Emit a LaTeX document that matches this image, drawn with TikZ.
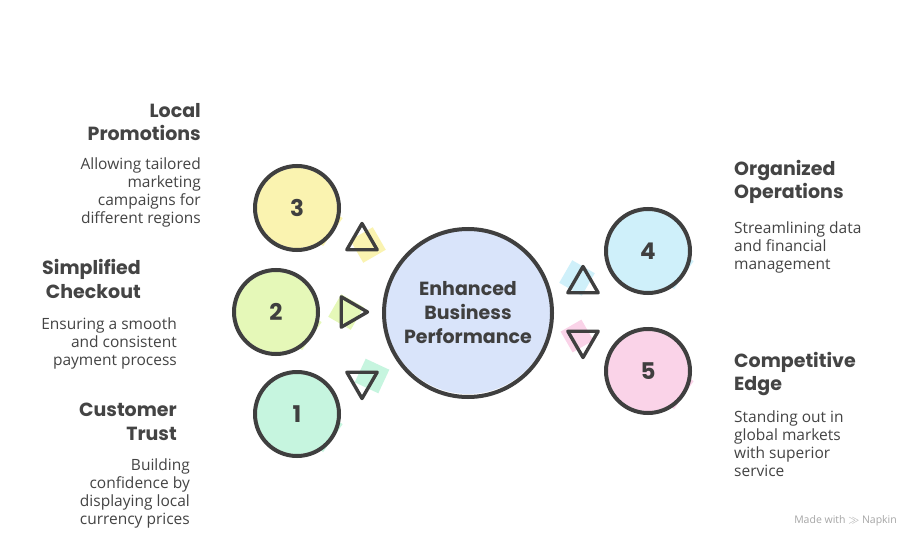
\documentclass[tikz,border=0pt]{standalone}
\usepackage{fontspec}
\setmainfont{Open Sans}
\newfontfamily\titlefont{Poppins}
\usetikzlibrary{shapes.geometric}
\definecolor{ink}{HTML}{3F3F3F}
\definecolor{txt}{HTML}{444444}
\definecolor{cyel}{HTML}{FAF3B0}
\definecolor{clime}{HTML}{E5F8B8}
\definecolor{cmint}{HTML}{C6F5DF}
\definecolor{cblue}{HTML}{D9E4FA}
\definecolor{ccyan}{HTML}{CFF0FA}
\definecolor{cpink}{HTML}{FAD3E8}
\tikzset{
  numcircle/.style={circle, draw=ink, line width=4pt, minimum size=84pt, inner sep=0pt,
    font=\titlefont\bfseries\fontsize{23}{24}\selectfont, text=ink},
  bigcircle/.style={circle, draw=ink, line width=4pt, minimum size=168pt, inner sep=0pt,
    font=\titlefont\bfseries\fontsize{19}{24}\selectfont, text=ink, align=center},
  tri/.style={regular polygon, regular polygon sides=3, draw=ink, line width=3.4pt,
    line join=round, minimum size=35pt, inner sep=0pt},
  ttl/.style={font=\titlefont\bfseries\fontsize{19}{23.5}\selectfont, text=txt, inner sep=0pt},
  dsc/.style={font=\fontsize{15.5}{18}\selectfont, text=txt, inner sep=0pt},
}
\begin{document}
\begin{tikzpicture}[x=1pt,y=-1pt]
\useasboundingbox[fill=white] (0,0) rectangle (912,540);
% sketchy fills
\foreach \cx/\cy/\col in {297/208/cyel, 276/312/clime, 297/414/cmint, 648/251/ccyan, 648/371/cpink}{
  \fill[\col] (\cx,\cy) circle (40);
  \fill[\col, rotate around={30:(\cx-14,\cy-12)}] (\cx-34,\cy-28) rectangle (\cx+2,\cy+4);
  \fill[\col, rotate around={-35:(\cx+14,\cy+10)}] (\cx-6,\cy-8) rectangle (\cx+40,\cy+26);
}
\fill[cblue] (468,311) circle (83);
\fill[cblue, rotate around={-30:(448,290)}] (412,252) rectangle (472,312);
\fill[cblue, rotate around={25:(495,345)}] (470,320) rectangle (530,375);
% triangle patches
\fill[cyel, rotate around={30:(368,245)}] (355,232) rectangle (381,258);
\fill[clime, rotate around={-30:(346,312)}] (333,299) rectangle (359,325);
\fill[cmint, rotate around={-25:(372,376)}] (359,363) rectangle (385,389);
\fill[ccyan, rotate around={-30:(577,278)}] (564,265) rectangle (590,291);
\fill[cpink, rotate around={30:(577,336)}] (565,324) rectangle (589,348);
% circles
\node[numcircle] (c3) at (297,208) {3};
\node[numcircle] (c2) at (276,312) {2};
\node[numcircle] (c1) at (297,414) {1};
\node[numcircle] (c4) at (648,251) {4};
\node[numcircle] (c5) at (648,371) {5};
\node[bigcircle] (cc) at (468,313) {Enhanced\\Business\\Performance};
% triangles
\node[tri] (t3) at (362,241) {};
\node[tri, shape border rotate=-90] (t2) at (350,312) {};
\node[tri, shape border rotate=180] (t1) at (362,381) {};
\node[tri] (t4) at (583,284) {};
\node[tri, shape border rotate=180] (t5) at (583,340) {};
% left texts
\node[ttl, anchor=east, align=right] (h3) at (201,122) {Local\\Promotions};
\node[dsc, anchor=north east, align=right] (d3) at (201,158) {Allowing tailored\\marketing\\campaigns for\\different regions};
\node[ttl, anchor=east, align=right] (h2) at (141,279) {Simplified\\Checkout};
\node[dsc, anchor=north east, align=right] (d2) at (177,318) {Ensuring a smooth\\and consistent\\payment process};
\node[ttl, anchor=east, align=right] (h1) at (177,422) {Customer\\Trust};
\node[dsc, anchor=north east, align=right] (d1) at (190,459) {Building\\confidence by\\displaying local\\currency prices};
% right texts
\node[ttl, anchor=west, align=left] (h4) at (734,182) {Organized\\Operations};
\node[dsc, anchor=north west, align=left] (d4) at (734,222) {Streamlining data\\and financial\\management};
\node[ttl, anchor=west, align=left] (h5) at (734,374) {Competitive\\Edge};
\node[dsc, anchor=north west, align=left] (d5) at (734,411) {Standing out in\\global markets\\with superior\\service};
% watermark
\node[font=\fontsize{10.5}{12}\selectfont, text=black!35, anchor=east, inner sep=0pt] (wm) at (897,521) {Made with \textbf{$\gg$} Napkin};
\end{tikzpicture}
\end{document}
